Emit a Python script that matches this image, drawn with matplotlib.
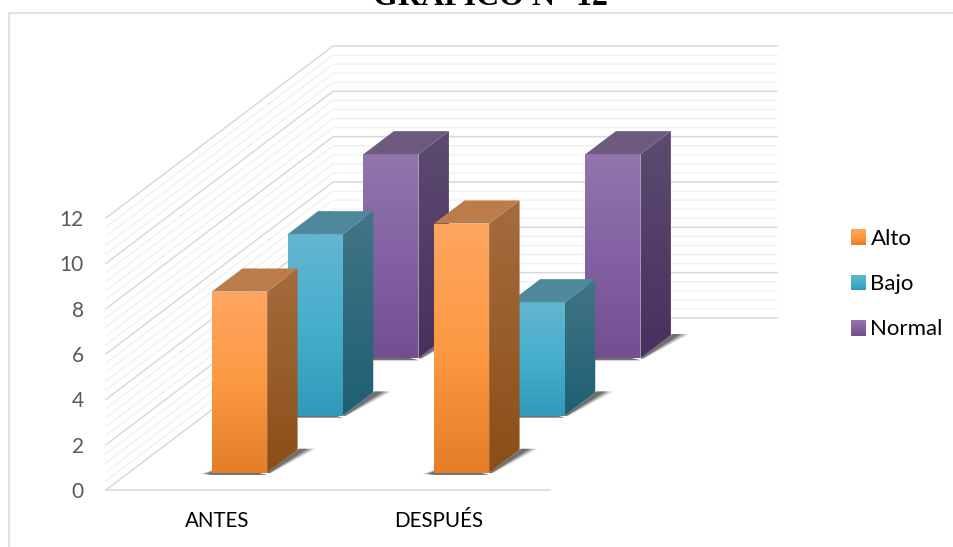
import numpy as np
import matplotlib
matplotlib.use("Agg")
import matplotlib.pyplot as plt
from matplotlib.colors import LinearSegmentedColormap
from matplotlib.legend_handler import HandlerBase
from matplotlib.patches import Patch, Polygon, Rectangle

categories = ["ANTES", "DESPUÉS"]
series_names = ["Alto", "Bajo", "Normal"]
alto = [8, 11]
bajo = [8, 5]
normal = [9, 9]
y_ticks = [0, 2, 4, 6, 8, 10, 12]

# Face shading per series: front stops, side stops, flat top colour
STYLE = {
    "Alto": (["#FFA561", "#FC9A43", "#E57D27"], ["#A56C3E", "#8A4E17"], "#BC7B4B"),
    "Bajo": (["#64B5D0", "#45AFCE", "#319ABA"], ["#417586", "#1F5F72"], "#4F889C"),
    "Normal": (["#9176AC", "#8361A3", "#734F92"], ["#5C4B70", "#49305E"], "#6C5B7F"),
}

FIG_W, FIG_H = 954, 547
DEPTH_X = 227 / 222       # horizontal run of the floor, in category units
DEPTH_Y = 172 / (272 / 12)  # vertical rise of the floor, in value units
BAR_W = 0.248
BAR_D = 0.134

plt.rcParams["font.family"] = ["Lato", "DejaVu Sans"]
fig = plt.figure(figsize=(FIG_W / 100, FIG_H / 100), dpi=100)
ax = fig.add_axes([106 / FIG_W, (FIG_H - 490) / FIG_H, 444 / FIG_W, 272 / FIG_H])
ax.patch.set_visible(False)


def project(x, depth, value):
    """Oblique projection of (category, depth, value) onto the axes."""
    return x + depth * DEPTH_X, value + depth * DEPTH_Y


def shaded_face(verts, stops, z):
    poly = Polygon(verts, closed=True, transform=ax.transData)
    xs, ys = zip(*verts)
    cmap = LinearSegmentedColormap.from_list("face", stops)
    im = ax.imshow(np.linspace(0, 1, 128)[:, None], cmap=cmap, aspect="auto",
                   extent=(min(xs), max(xs), min(ys), max(ys)), origin="upper",
                   zorder=z, interpolation="bilinear")
    # Faces run past the axes box, so only the figure limits them
    im.set_clip_box(fig.bbox)
    im.set_clip_path(poly)


def draw_bar(x_c, depth_c, value, style, z):
    front, side, top = style
    x0, x1 = x_c - BAR_W / 2, x_c + BAR_W / 2
    d0, d1 = depth_c - BAR_D / 2, depth_c + BAR_D / 2

    # Soft contact shadow on the floor
    for grow, alpha in [(0.075, 0.18), (0.058, 0.3), (0.04, 0.45)]:
        ax.add_patch(Polygon(
            [project(x1, d0, 0), project(x1, d1 + 0.006, 0), project(x1 + grow, d1 + 0.006, 0),
             project(x1 + grow * 0.2, d0, -0.02)],
            closed=True, facecolor="#303030", edgecolor="none", alpha=alpha, zorder=z, clip_on=False))
        ax.add_patch(Polygon(
            [project(x0 - grow * 0.7, d0, -0.05), project(x0 + 0.02, d0 + 0.045, 0), project(x1, d0, -0.09),
             project(x0, d0, -0.09)],
            closed=True, facecolor="#303030", edgecolor="none", alpha=alpha, zorder=z, clip_on=False))

    shaded_face([project(x1, d0, 0), project(x1, d1, 0), project(x1, d1, value), project(x1, d0, value)],
                side, z + 0.1)
    shaded_face([project(x0, d0, 0), project(x1, d0, 0), project(x1, d0, value), project(x0, d0, value)],
                front, z + 0.2)
    ax.add_patch(Polygon(
        [project(x0, d0, value), project(x1, d0, value), project(x1, d1, value), project(x0, d1, value)],
        closed=True, facecolor=top, edgecolor="none", zorder=z + 0.3, clip_on=False))


# Walls: gridlines every 0.4, heavier on the labelled values
for v in np.arange(0, 12.01, 0.4):
    is_major = abs(v / 2 - round(v / 2)) < 1e-6
    color = "#D9D9D9" if is_major else "#F1F1F1"
    lw = 1.1 if is_major else 1.0
    pts = [project(0, 0, v), project(0, 1, v), project(2, 1, v)]
    ax.plot(*zip(*pts), color=color, lw=lw, zorder=1 if not is_major else 1.5, clip_on=False,
            solid_joinstyle="miter")

# Bars, from the back row to the front one
values = {"Alto": alto, "Bajo": bajo, "Normal": normal}
for row, name in reversed(list(enumerate(series_names))):
    depth_c = (row + 0.5) / len(series_names)
    for i, value in enumerate(values[name]):
        draw_bar(i + 0.5, depth_c, value, STYLE[name], z=10 + (2 - row) * 3 + i)

ax.set_xlim(0, 2)
ax.set_ylim(0, 12)
ax.set_xticks([0.5, 1.5], categories)
ax.set_yticks(y_ticks)
ax.tick_params(axis="x", length=0, pad=15, labelsize=14.8, labelcolor="#000000")
ax.tick_params(axis="y", length=0, pad=16, labelsize=15, labelcolor="#595959")
for side in ("top", "right", "left"):
    ax.spines[side].set_visible(False)
ax.spines["bottom"].set_color("#D9D9D9")
ax.spines["bottom"].set_linewidth(1.1)


class GradientSwatch(HandlerBase):
    """Legend key with the front-face gradient of its series."""

    def create_artists(self, legend, handle, xd, yd, w, h, fontsize, trans):
        stops = LinearSegmentedColormap.from_list("key", STYLE[handle.get_label()][0])
        n = 8
        return [Rectangle((xd, yd + h - h * (k + 1) / n), w, h / n + 0.2,
                          facecolor=stops((k + 0.5) / n), edgecolor="none", transform=trans)
                for k in range(n)]


handles = [Patch(label=name) for name in series_names]
ax.legend(handles=handles, labels=series_names, loc="center left",
          bbox_to_anchor=(851 / FIG_W, (FIG_H - 284) / FIG_H), bbox_transform=fig.transFigure,
          frameon=False, fontsize=16, handler_map={Patch: GradientSwatch()},
          handlelength=0.675, handleheight=0.675, handletextpad=0.2, labelspacing=1.14,
          borderpad=0, borderaxespad=0)

# Chart frame, open at the right and bottom edges of the page
fig.add_artist(plt.Line2D([9.5 / FIG_W, 9.5 / FIG_W, 1], [0, 1 - 13 / FIG_H, 1 - 13 / FIG_H],
                          color="#D9D9D9", lw=1.1))

fig.text(490 / FIG_W, 1 - 5 / FIG_H, "GRÁFICO N° 12", family="Liberation Serif", weight="bold",
         fontsize=23, ha="center", va="baseline", color="#000000")

fig.savefig("out.png", dpi=100)
